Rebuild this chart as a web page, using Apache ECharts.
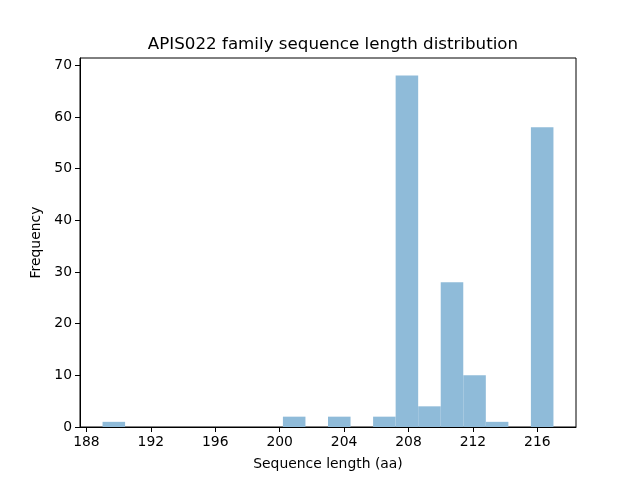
<!DOCTYPE html>
<html><head><meta charset="utf-8">
<script src="https://cdn.jsdelivr.net/npm/echarts@6/dist/echarts.min.js"></script>
<style>html,body{margin:0;padding:0;background:#fff}#c{width:640px;height:480px}</style>
</head><body><div id="c"></div>
<script>
var binStarts = [189, 190.4, 191.8, 193.2, 194.6, 196, 197.4, 198.8, 200.2, 201.6, 203, 204.4, 205.8, 207.2, 208.6, 210, 211.4, 212.8, 214.2, 215.6];
var binWidth = 1.4;
var counts = [1, 0, 0, 0, 0, 0, 0, 0, 2, 0, 2, 0, 2, 68, 4, 28, 10, 1, 0, 58];
var xTicks = [188, 192, 196, 200, 204, 208, 212, 216];

var data = binStarts.map(function (s, i) { return [s, s + binWidth, counts[i]]; });
var font = 'DejaVu Sans';
var chart = echarts.init(document.getElementById('c'), null, {renderer: 'canvas'});
chart.setOption({
  animation: false,
  backgroundColor: '#fff',
  title: {text: 'APIS022 family sequence length distribution', left: 328, top: 31, textAlign: 'center',
    textStyle: {fontFamily: font, fontSize: 16.7, fontWeight: 'normal', color: '#000'}},
  grid: {left: 80, right: 64, top: 58, bottom: 53, show: true, borderColor: '#000', borderWidth: 1, backgroundColor: 'transparent'},
  xAxis: {type: 'value', min: 187.6, max: 218.4, name: 'Sequence length (aa)', nameLocation: 'middle', nameGap: 30,
    nameTextStyle: {fontFamily: font, fontSize: 13.9, color: '#000'},
    axisLine: {show: true, onZero: false, lineStyle: {color: '#000', width: 1}},
    axisTick: {show: true, length: 5, lineStyle: {color: '#000'}, customValues: xTicks},
    axisLabel: {fontFamily: font, fontSize: 13.9, color: '#000', margin: 8, customValues: xTicks},
    splitLine: {show: false}},
  yAxis: {type: 'value', min: 0, max: 71.4, interval: 10, name: 'Frequency', nameLocation: 'middle', nameGap: 29,
    nameTextStyle: {fontFamily: font, fontSize: 13.9, color: '#000'},
    axisLine: {show: true, lineStyle: {color: '#000', width: 1}},
    axisTick: {show: true, length: 5, lineStyle: {color: '#000'}},
    axisLabel: {fontFamily: font, fontSize: 13.9, color: '#000', margin: 8, showMaxLabel: false},
    splitLine: {show: false}},
  series: [{
    type: 'custom',
    data: data,
    encode: {x: [0, 1], y: 2},
    renderItem: function (params, api) {
      var p0 = api.coord([api.value(0), 0]);
      var p1 = api.coord([api.value(1), api.value(2)]);
      return {type: 'rect', shape: {x: p0[0], y: p1[1], width: p1[0] - p0[0], height: p0[1] - p1[1]},
        style: {fill: '#8fbbd9', stroke: null, lineWidth: 0}};
    }
  }]
});
</script></body></html>
